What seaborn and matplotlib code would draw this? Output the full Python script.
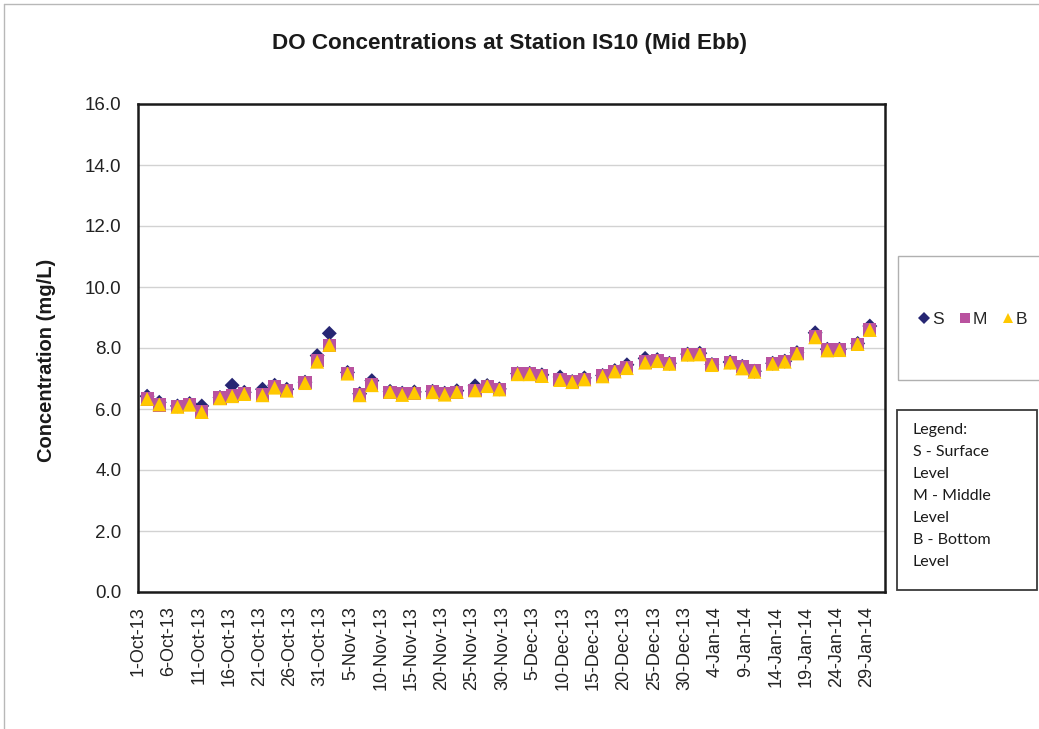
import pandas as pd
import matplotlib
matplotlib.use("Agg")
import matplotlib.pyplot as plt
from matplotlib.patches import Rectangle
from matplotlib.lines import Line2D
import seaborn as sns

# Sampling dates (Mon / Wed / Fri)
dates = [
    "2013-10-02", "2013-10-04", "2013-10-07", "2013-10-09", "2013-10-11", "2013-10-14",
    "2013-10-16", "2013-10-18", "2013-10-21", "2013-10-23", "2013-10-25", "2013-10-28",
    "2013-10-30", "2013-11-01", "2013-11-04", "2013-11-06", "2013-11-08", "2013-11-11",
    "2013-11-13", "2013-11-15", "2013-11-18", "2013-11-20", "2013-11-22", "2013-11-25",
    "2013-11-27", "2013-11-29", "2013-12-02", "2013-12-04", "2013-12-06", "2013-12-09",
    "2013-12-11", "2013-12-13", "2013-12-16", "2013-12-18", "2013-12-20", "2013-12-23",
    "2013-12-25", "2013-12-27", "2013-12-30", "2014-01-01", "2014-01-03", "2014-01-06",
    "2014-01-08", "2014-01-10", "2014-01-13", "2014-01-15", "2014-01-17", "2014-01-20",
    "2014-01-22", "2014-01-24", "2014-01-27", "2014-01-29",
]

# DO concentration (mg/L) at surface, middle, bottom
surface = [6.42, 6.22, 6.10, 6.18, 6.10, 6.38, 6.78, 6.55, 6.65, 6.78, 6.65, 6.88,
           7.75, 8.48, 7.20, 6.50, 6.93, 6.58, 6.52, 6.56, 6.58, 6.52, 6.60, 6.76,
           6.77, 6.66, 7.16, 7.17, 7.12, 7.05, 6.90, 7.02, 7.10, 7.26, 7.45, 7.66,
           7.62, 7.50, 7.80, 7.83, 7.46, 7.54, 7.40, 7.24, 7.50, 7.57, 7.85, 8.50,
           7.96, 7.96, 8.15, 8.72]
middle = [6.33, 6.13, 6.07, 6.15, 5.92, 6.36, 6.45, 6.50, 6.48, 6.72, 6.62, 6.86,
          7.58, 8.08, 7.17, 6.47, 6.80, 6.55, 6.51, 6.52, 6.57, 6.52, 6.55, 6.62,
          6.75, 6.65, 7.15, 7.17, 7.10, 6.97, 6.90, 6.98, 7.08, 7.24, 7.36, 7.54,
          7.58, 7.49, 7.79, 7.79, 7.45, 7.52, 7.39, 7.25, 7.50, 7.55, 7.83, 8.36,
          7.94, 7.94, 8.12, 8.62]
bottom = [6.33, 6.15, 6.07, 6.14, 5.90, 6.35, 6.42, 6.49, 6.45, 6.70, 6.60, 6.85,
          7.55, 8.10, 7.16, 6.45, 6.78, 6.56, 6.46, 6.53, 6.55, 6.47, 6.56, 6.61,
          6.75, 6.64, 7.14, 7.14, 7.08, 6.95, 6.88, 6.97, 7.07, 7.23, 7.34, 7.52,
          7.57, 7.48, 7.78, 7.79, 7.44, 7.52, 7.33, 7.22, 7.48, 7.55, 7.82, 8.35,
          7.92, 7.93, 8.13, 8.59]

levels = ["S", "M", "B"]
level_colors = {"S": "#262673", "M": "#B9529F", "B": "#FFC800"}
level_markers = {"S": "D", "M": "s", "B": "^"}
level_sizes = {"S": 58, "M": 90, "B": 100}
notes = "Legend:\nS - Surface\nLevel\nM - Middle\nLevel\nB - Bottom\nLevel"


def main():
    when = pd.to_datetime(dates) + pd.Timedelta(hours=12)  # Excel centres points in the day slot
    df = pd.concat([
        pd.DataFrame({"date": when, "value": surface, "level": "S"}),
        pd.DataFrame({"date": when, "value": middle, "level": "M"}),
        pd.DataFrame({"date": when, "value": bottom, "level": "B"}),
    ], ignore_index=True)

    sns.set_style("white")
    plt.rcParams["font.family"] = ["Liberation Sans", "DejaVu Sans"]

    fig = plt.figure(figsize=(10.39, 7.29), dpi=100)
    W, H = 1039, 729
    ax = fig.add_axes([138 / W, 1 - 592 / H, (885 - 138) / W, (592 - 104) / H])

    sns.scatterplot(data=df, x="date", y="value", hue="level", style="level", size="level",
                    hue_order=levels, style_order=levels, size_order=levels,
                    palette=level_colors, markers=level_markers, sizes=level_sizes,
                    linewidth=0, legend=False, ax=ax, zorder=3)

    ax.set_xlim(pd.Timestamp("2013-10-01"), pd.Timestamp("2014-02-01"))
    ax.set_ylim(0, 16)
    ax.set_yticks([i * 2.0 for i in range(9)])
    ax.yaxis.set_major_formatter(matplotlib.ticker.FormatStrFormatter("%.1f"))
    ax.yaxis.grid(True, color="#d2d2d2", linewidth=1.0)
    ax.set_axisbelow(True)

    ticks = pd.date_range("2013-10-01", "2014-01-29", freq="5D")
    ax.set_xticks(ticks)
    ax.set_xticklabels([f"{t.day}-{t.strftime('%b-%y')}" for t in ticks], rotation=90)

    ax.tick_params(axis="both", which="major", length=6, width=1, color="#b4b4b4",
                   labelcolor="#222222", direction="out")
    ax.tick_params(axis="y", pad=6, labelsize=13.5)
    ax.tick_params(axis="x", pad=4, labelsize=13)
    for sp in ax.spines.values():
        sp.set_color("#1a1a1a")
        sp.set_linewidth(1.8)

    ax.set_xlabel("")
    ax.set_ylabel("")
    fig.text(47 / W, 1 - 360 / H, "Concentration (mg/L)", rotation=90, ha="center", va="center",
             fontsize=14.5, fontweight="bold", color="#1a1a1a")
    fig.text(509 / W, 1 - 44 / H, "DO Concentrations at Station IS10 (Mid Ebb)",
             ha="center", va="center", fontsize=16.2, fontweight="bold", color="#1a1a1a")

    # outer chart-area border (only top and left show)
    fig.add_artist(Line2D([4 / W, 4 / W], [0, 1 - 4 / H], transform=fig.transFigure,
                          color="#b8b8b8", linewidth=1))
    fig.add_artist(Line2D([4 / W, 1], [1 - 4 / H, 1 - 4 / H], transform=fig.transFigure,
                          color="#b8b8b8", linewidth=1))

    # series legend box
    fig.add_artist(Rectangle((898 / W, 1 - 380 / H), 150 / W, 124 / H, transform=fig.transFigure,
                             fill=False, edgecolor="#b0b0b0", linewidth=1))
    handles = [Line2D([], [], linestyle="none", marker=level_markers[k], color=level_colors[k],
                      markersize=7 if k != "S" else 6, markeredgewidth=0) for k in levels]
    fig.legend(handles, levels, loc="center", bbox_to_anchor=(973 / W, 1 - 319 / H),
               ncol=3, frameon=False, fontsize=12.5, handlelength=0.6, handletextpad=0.15,
               columnspacing=0.9, borderpad=0)

    # notes box
    fig.add_artist(Rectangle((897 / W, 1 - 590 / H), 140 / W, 180 / H, transform=fig.transFigure,
                             fill=False, edgecolor="#3a3a3a", linewidth=1.3))
    fig.text(913 / W, 1 - 423 / H, notes, ha="left", va="top", fontsize=11.5,
             family=["Lato", "DejaVu Sans"], linespacing=1.72, color="#1a1a1a")

    fig.savefig("out.png", dpi=100)
    plt.close(fig)


if __name__ == "__main__":
    main()
